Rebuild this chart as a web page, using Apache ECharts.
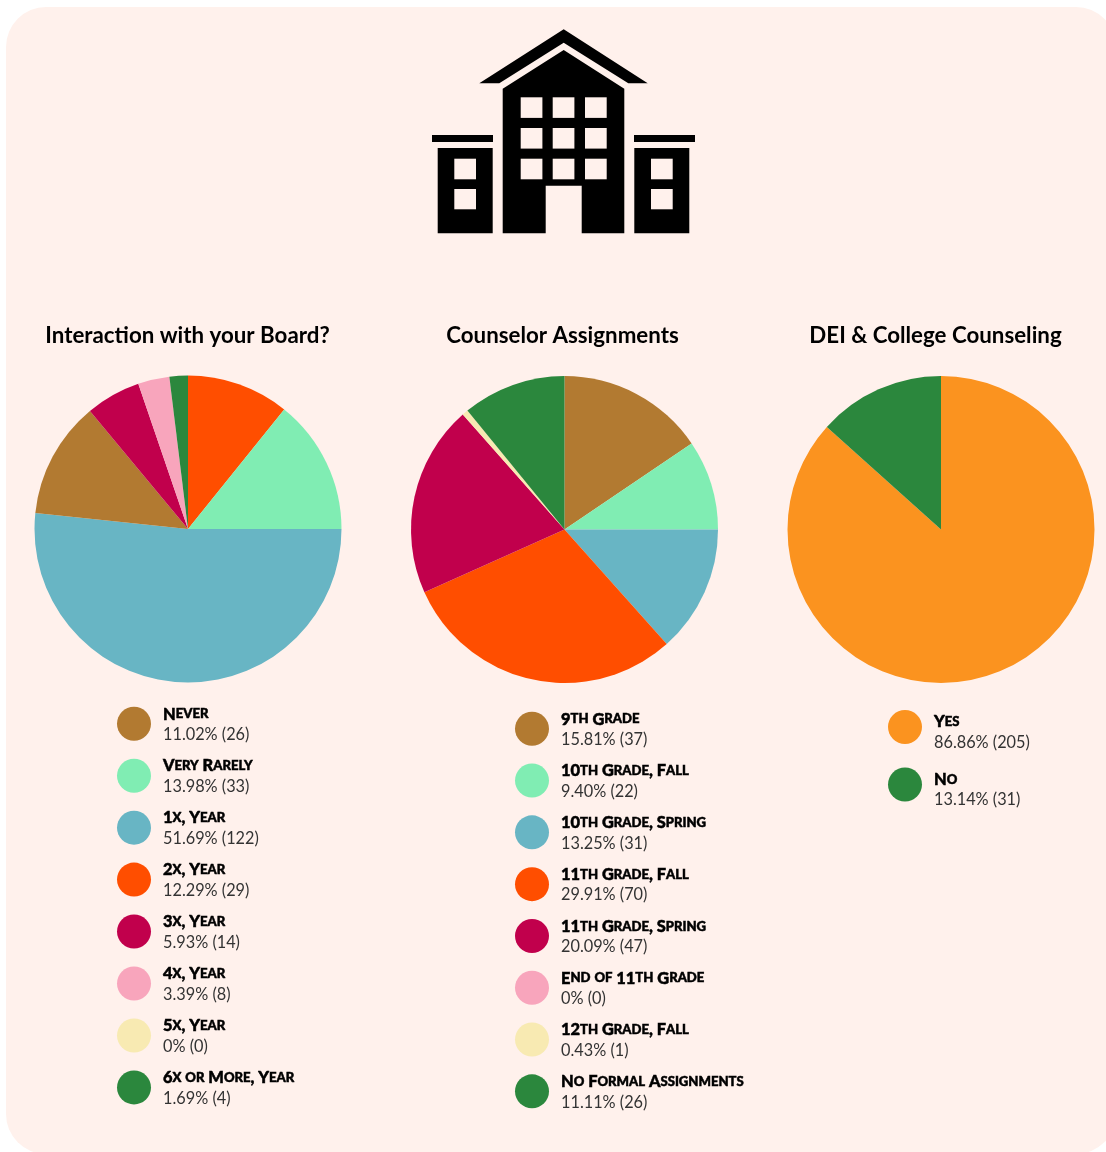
<!DOCTYPE html>
<html><head><meta charset="utf-8">
<style>html,body{margin:0;padding:0;background:#fff}#c{width:1106px;height:1152px}</style>
<script src="https://cdn.jsdelivr.net/npm/echarts@6/dist/echarts.min.js"></script>
</head><body><div id="c"></div>
<script>
const boardTitle = 'Interaction with your Board?';
const boardNames = ['Never','Very Rarely','1x, Year','2x, Year','3x, Year','4x, Year','5x, Year','6x or More, Year'];
const boardCounts = [26,33,122,29,14,8,0,4];
const boardPercents = ['11.02%','13.98%','51.69%','12.29%','5.93%','3.39%','0%','1.69%'];
const boardSliceOrder = ['2x, Year','Very Rarely','1x, Year','Never','3x, Year','4x, Year','5x, Year','6x or More, Year'];
const boardSliceShares = [10.78,14.22,51.67,12.3,5.78,3.31,0,1.94];

const counselorTitle = 'Counselor Assignments';
const counselorNames = ['9th Grade','10th Grade, Fall','10th Grade, Spring','11th Grade, Fall','11th Grade, Spring','End of 11th Grade','12th Grade, Fall','No Formal Assignments'];
const counselorCounts = [37,22,31,70,47,0,1,26];
const counselorPercents = ['15.81%','9.40%','13.25%','29.91%','20.09%','0%','0.43%','11.11%'];
const counselorSliceShares = [15.53,9.47,13.4,29.9,20.17,0,0.63,10.9];

const deiTitle = 'DEI & College Counseling';
const deiNames = ['Yes','No'];
const deiCounts = [205,31];
const deiPercents = ['86.86%','13.14%'];
const deiSliceShares = [86.65,13.35];

const eightColors = ['#B27A31','#80EDB3','#68B5C4','#FF4E00','#C1004C','#F8A5BC','#F8EAB2','#2B873D'];
const deiColors = ['#FB931F','#2B873D'];

const BG = '#FFF1EC';
const FONT = 'Lato, "Open Sans", sans-serif';

const lookup = {};
function register(names, counts, percents, colors){
  names.forEach((n,i)=>{ lookup[n] = {count:counts[i], pct:percents[i], color:colors[i]}; });
}
register(boardNames, boardCounts, boardPercents, eightColors);
register(counselorNames, counselorCounts, counselorPercents, eightColors);
register(deiNames, deiCounts, deiPercents, deiColors);

function smallCaps(name){
  return name.split(/([a-z]+)/).filter(Boolean).map(p =>
    /^[a-z]+$/.test(p) ? '{s|'+p.toUpperCase()+'}' : '{b|'+p+'}').join('');
}
function pie(center, names, shares){
  return {type:'pie', center, radius:[0,153.5], startAngle:90, clockwise:true, silent:true,
    animation:false, label:{show:false}, labelLine:{show:false}, emphasis:{disabled:true},
    itemStyle:{borderWidth:0},
    data:names.map((n,i) => ({name:n, value:shares[i], itemStyle:{color:lookup[n].color}}))};
}
function legend(left, top, names, gap, padTop){
  const heavy = {fontFamily:FONT, fontWeight:900, lineHeight:20, color:'#000', textBorderColor:'#000', textBorderWidth:0.5};
  return {orient:'vertical', left, top, icon:'circle', itemWidth:34, itemHeight:34, itemGap:gap,
    selectedMode:false, data:names, padding:0,
    formatter:n => smallCaps(n)+'\n{v|'+lookup[n].pct+' ('+lookup[n].count+')}',
    textStyle:{padding:[padTop,0,0,7], rich:{
      b:Object.assign({fontSize:16.4}, heavy),
      s:Object.assign({fontSize:13.1}, heavy),
      v:{fontFamily:FONT, fontWeight:400, fontSize:16.3, lineHeight:21, color:'#333'}
    }}};
}
function title(text, x){
  return {text, left:x, top:325, textAlign:'center', padding:0,
    textStyle:{fontFamily:FONT, fontWeight:700, fontSize:22.3, color:'#000'}};
}
const ink = {fill:'#000'}, hole = {fill:BG};
function r(x,y,w,h,style){ return {type:'rect', shape:{x,y,width:w,height:h}, style}; }
function poly(points,style){ return {type:'polygon', shape:{points}, style}; }
const windowsX = [520.7,552.7,585], windowsY = [97.3,128,158.7];
const icon = [
  poly([[563.7,29.3],[647.7,83.3],[628.3,83.3],[563.7,42.7],[499.3,83.3],[479.3,83.3]],ink),
  poly([[563.7,50],[624.3,88.7],[624.3,233.3],[581.7,233.3],[581.7,185.7],[545.7,185.7],[545.7,233.3],[502.7,233.3],[502.7,88.7]],ink),
  r(432,135,61,7,ink), r(634,135,61,7,ink),
  r(437.7,148,55,85.3,ink), r(634.3,148,55,85.3,ink),
  r(454.3,158.7,21.7,20.6,hole), r(454.3,189,21.7,20.3,hole),
  r(651,158.7,21.7,20.6,hole), r(651,189,21.7,20.3,hole)
];
windowsX.forEach(x => windowsY.forEach(y => icon.push(r(x,y,21.7,20.6,hole))));

const chart = echarts.init(document.getElementById('c'), null, {renderer:'canvas'});
chart.setOption({
  animation:false,
  backgroundColor:'#fff',
  title:[title(boardTitle,187.5), title(counselorTitle,562.5), title(deiTitle,935.5)],
  legend:[legend(117,706,boardNames,15.2,2), legend(515,711,counselorNames,15.05,2), legend(888,710,deiNames,17,11)],
  tooltip:{show:false},
  series:[
    pie([188,529], boardSliceOrder, boardSliceShares),
    pie([564.5,529.5], counselorNames, counselorSliceShares),
    pie([941,529.5], deiNames, deiSliceShares)
  ],
  graphic:[
    {type:'rect', z:-10, silent:true, shape:{x:6,y:7,width:1110,height:1147,r:40}, style:{fill:BG}},
    ...icon.map(e => Object.assign(e,{z:-5, silent:true}))
  ]
});
</script></body></html>
